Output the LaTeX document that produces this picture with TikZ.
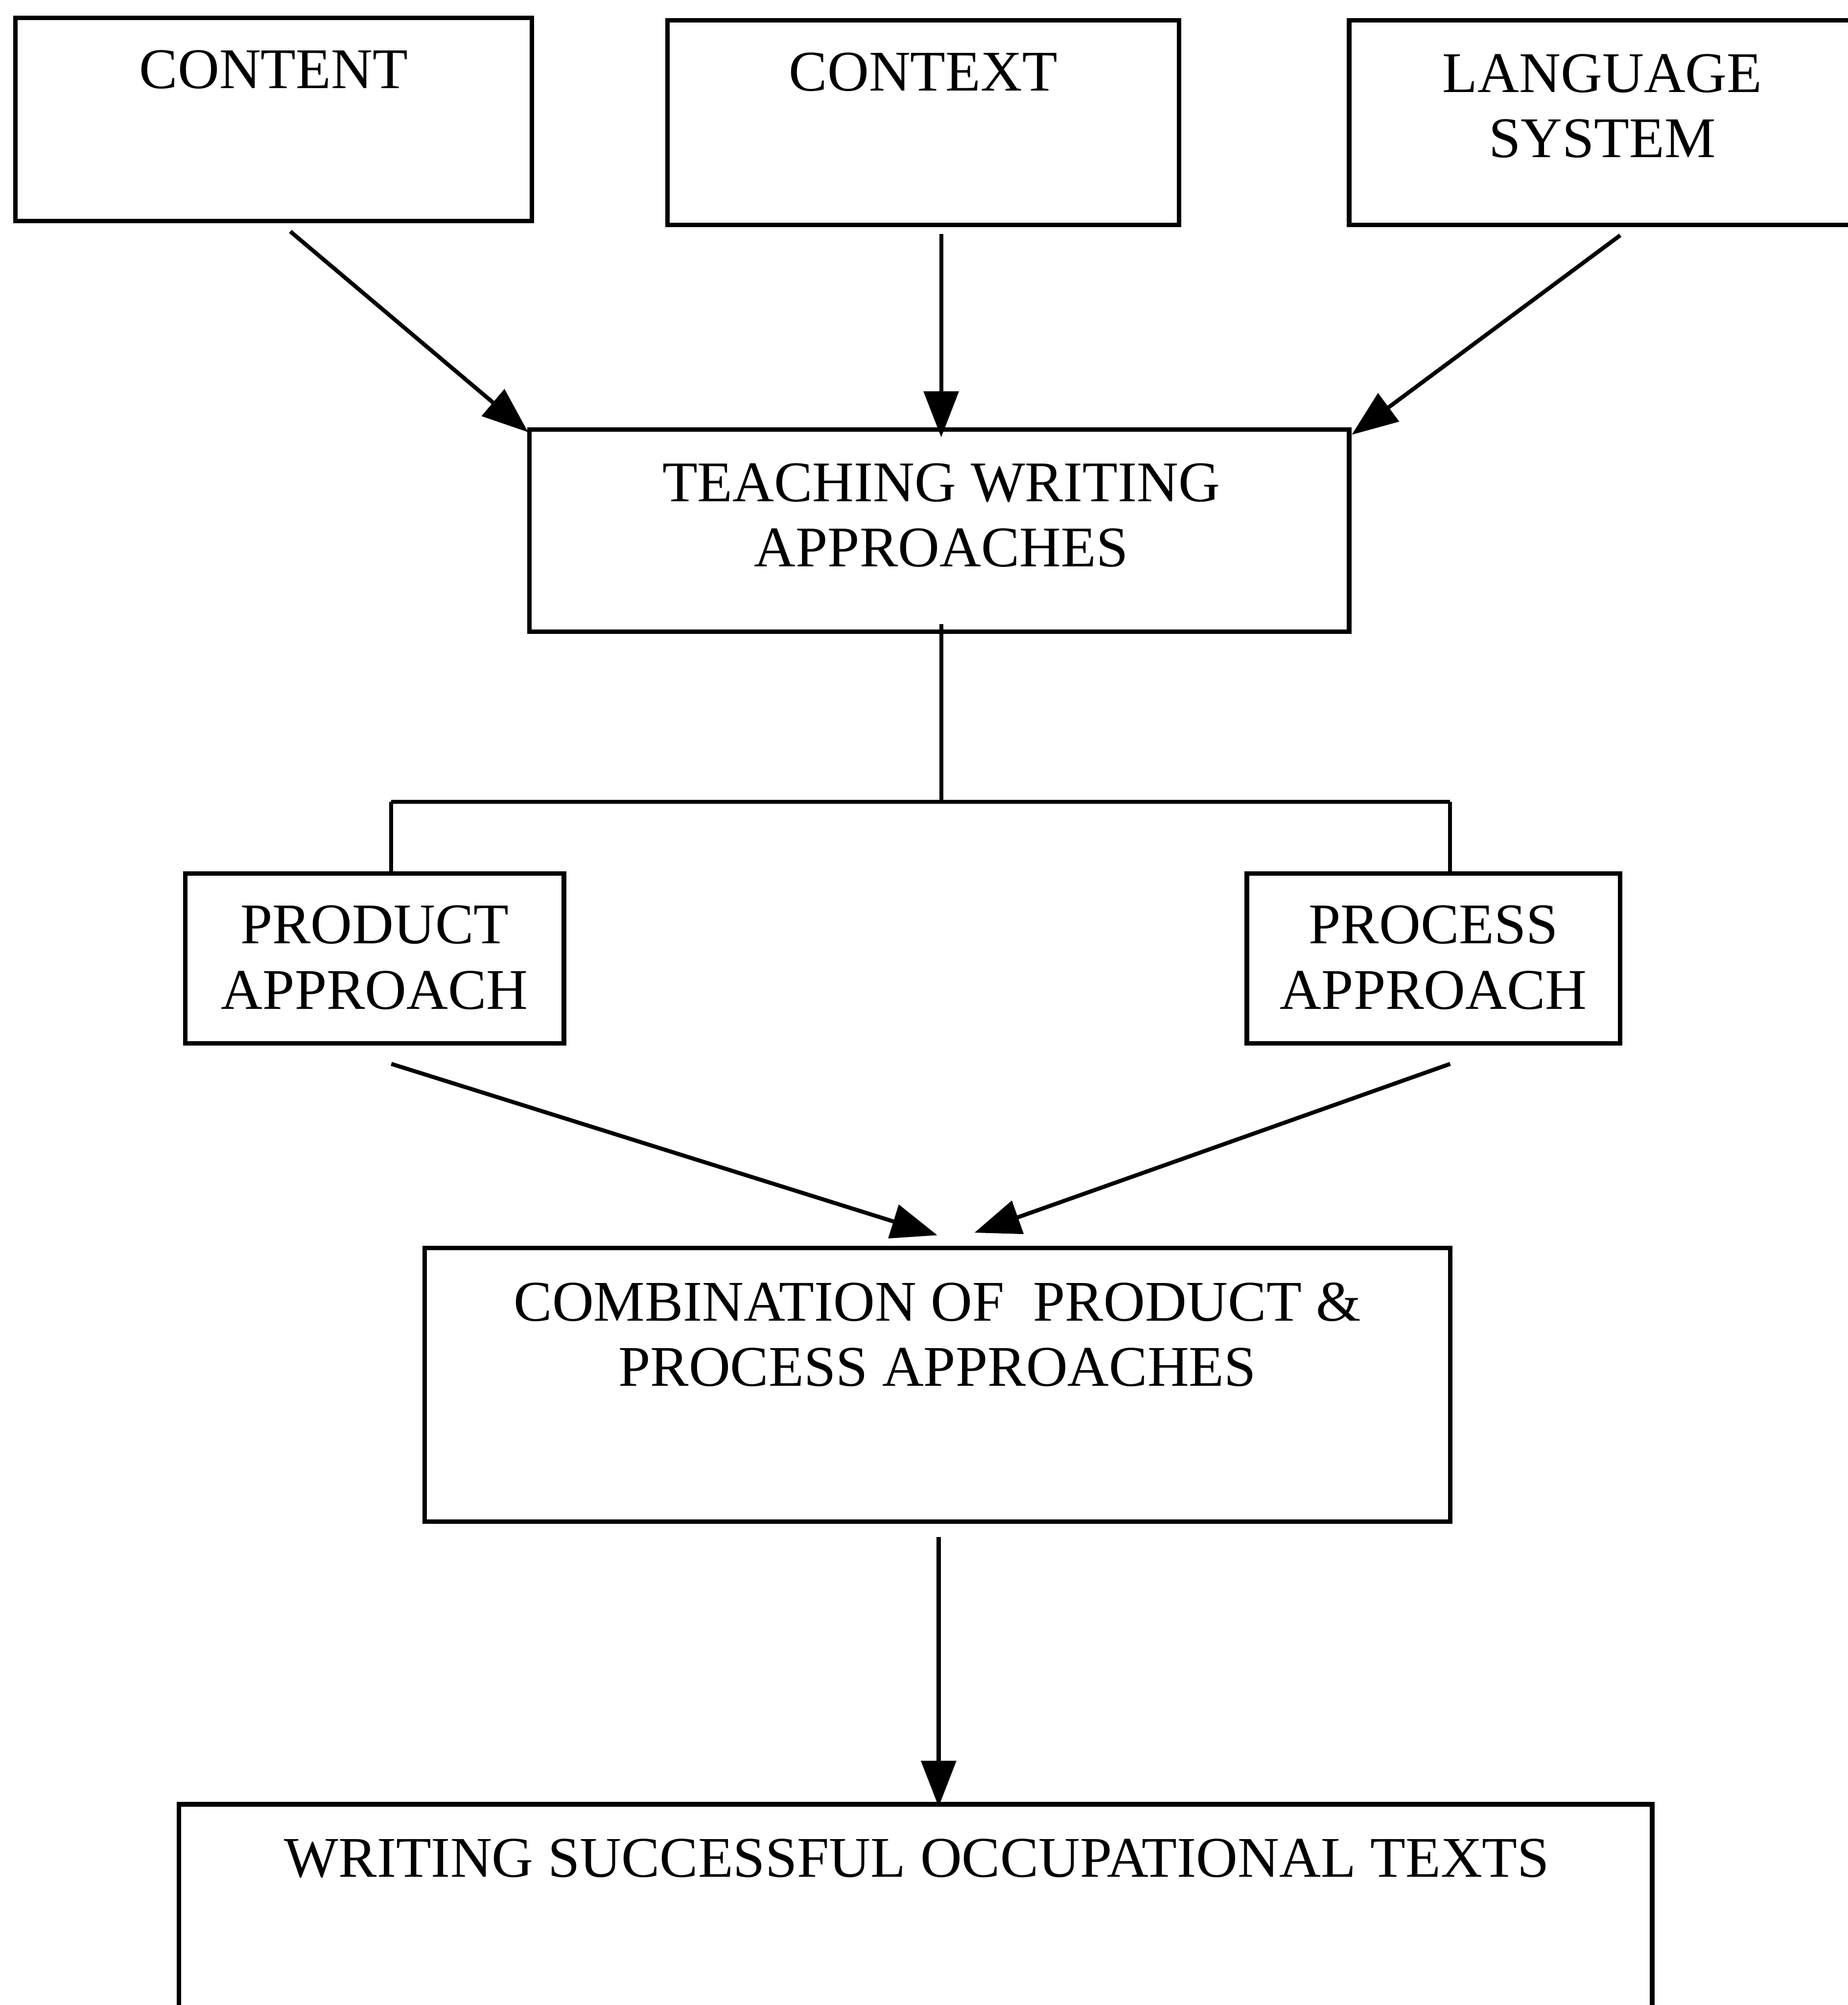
\documentclass[tikz,border=0pt]{standalone}
\usepackage{fontspec}
\setmainfont{Liberation Serif}
\usetikzlibrary{arrows.meta}
\begin{document}
\begin{tikzpicture}[
  box/.style={draw, line width=1pt, inner sep=0pt, anchor=center},
  lbl/.style={font=\fontsize{12.8}{14.5}\selectfont, align=center, inner sep=0pt, anchor=base},
  conn/.style={line width=0.9pt, -{Triangle[length=0.36cm,width=0.27cm]}},
  plain/.style={line width=0.9pt}
]
\useasboundingbox (0,0) rectangle (14.45,-15.68);
\clip (0,0) rectangle (14.45,-15.68);
\fill[white] (0,0) rectangle (14.45,-15.68);

% boxes
\node[box, minimum width=4.04cm, minimum height=1.59cm] (content) at (2.14,-0.935) {};
\node[box, minimum width=4.00cm, minimum height=1.60cm] (context) at (7.22,-0.96) {};
\node[box, minimum width=4.05cm, minimum height=1.60cm] (lang) at (12.575,-0.96) {};
\node[box, minimum width=6.41cm, minimum height=1.58cm] (teach) at (7.345,-4.15) {};
\node[box, minimum width=2.96cm, minimum height=1.33cm] (product) at (2.93,-7.495) {};
\node[box, minimum width=2.92cm, minimum height=1.33cm] (process) at (11.21,-7.495) {};
\node[box, minimum width=8.02cm, minimum height=2.14cm] (comb) at (7.33,-10.83) {};
\node[box, minimum width=11.52cm, minimum height=2.38cm] (writing) at (7.16,-15.30) {};

% texts (base anchor = baseline of last line)
\node[lbl] (tcontent) at (2.14,-0.69) {CONTENT};
\node[lbl] (tcontext) at (7.22,-0.71) {CONTEXT};
\node[lbl] (tlang) at (12.53,-1.23) {LANGUAGE\\SYSTEM};
\node[lbl] (tteach) at (7.36,-4.43) {TEACHING WRITING\\APPROACHES};
\node[lbl] (tproduct) at (2.93,-7.89) {PRODUCT\\APPROACH};
\node[lbl] (tprocess) at (11.21,-7.89) {PROCESS\\APPROACH};
\node[lbl] (tcomb) at (7.33,-10.84) {COMBINATION OF\ \ PRODUCT \&\\PROCESS APPROACHES};
\node[lbl] (twriting) at (7.17,-14.68) {WRITING SUCCESSFUL OCCUPATIONAL TEXTS};

% connector points
\coordinate (s1) at (2.27,-1.81);
\coordinate (e1) at (4.13,-3.38);
\coordinate (s2) at (7.36,-1.83);
\coordinate (e2) at (7.36,-3.42);
\coordinate (s3) at (12.67,-1.84);
\coordinate (e3) at (10.57,-3.40);
\coordinate (s4) at (7.36,-4.88);
\coordinate (j0) at (7.36,-6.27);
\coordinate (jl) at (3.06,-6.27);
\coordinate (jr) at (11.34,-6.27);
\coordinate (s5) at (3.06,-8.32);
\coordinate (e5) at (7.33,-9.66);
\coordinate (s6) at (11.34,-8.32);
\coordinate (e6) at (7.62,-9.64);
\coordinate (s7) at (7.34,-12.02);
\coordinate (e7) at (7.34,-14.13);

\draw[conn] (s1) -- (e1);
\draw[conn] (s2) -- (e2);
\draw[conn] (s3) -- (e3);
\draw[plain] (s4) -- (j0);
\draw[plain] (jl) -- (jr);
\draw[plain] (jl) -- (jl |- product.north);
\draw[plain] (jr) -- (jr |- process.north);
\draw[conn] (s5) -- (e5);
\draw[conn] (s6) -- (e6);
\draw[conn] (s7) -- (e7);
\end{tikzpicture}
\end{document}
